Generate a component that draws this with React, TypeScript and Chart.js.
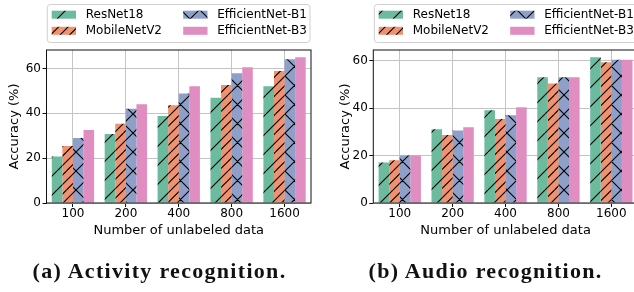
import React, { useEffect, useRef } from 'react';
import { Chart, registerables } from 'chart.js';
Chart.register(...registerables);

const categories = ['100', '200', '400', '800', '1600'];
const seriesNames = ['ResNet18', 'MobileNetV2', 'EfficientNet-B1', 'EfficientNet-B3'];

const activityResNet18 = [20.7, 30.8, 38.8, 47.0, 52.1];
const activityMobileNetV2 = [25.4, 35.3, 43.6, 52.6, 58.9];
const activityEffB1 = [29.0, 42.0, 48.9, 57.9, 64.1];
const activityEffB3 = [32.6, 44.1, 52.1, 60.6, 65.0];

const audioResNet18 = [17.1, 31.1, 39.1, 53.0, 61.4];
const audioMobileNetV2 = [18.0, 28.7, 35.4, 50.4, 59.3];
const audioEffB1 = [20.0, 30.6, 37.0, 53.0, 60.4];
const audioEffB3 = [20.0, 31.9, 40.3, 53.0, 60.4];

const yTicks = [0, 20, 40, 60];
const colors = ['#6dbb9f', '#f09170', '#8ea0c9', '#e08dc1'];
const hatches = ['/', '//', 'x', ''];

const xTitle = 'Number of unlabeled data';
const yTitle = 'Accuracy (%)';
const captionA = '(a) Activity recognition.';
const captionB = '(b) Audio recognition.';

const FONT = "'DejaVu Sans'";

function makeFill(color: string, hatch: string, s = 19): any {
  if (!hatch) return color;
  const c = document.createElement('canvas');
  c.width = s;
  c.height = s;
  const ctx = c.getContext('2d')!;
  ctx.fillStyle = color;
  ctx.fillRect(0, 0, s, s);
  ctx.strokeStyle = '#000';
  ctx.lineWidth = 1.1;
  ctx.beginPath();
  const n = hatch === '//' ? 2 : 1;
  for (let k = -2 * n; k <= 2 * n; k++) {
    const d = (k * s) / n;
    ctx.moveTo(d, s);
    ctx.lineTo(d + s, 0);
  }
  if (hatch === 'x') {
    for (let k = -2; k <= 2; k++) {
      const d = k * s;
      ctx.moveTo(d, 0);
      ctx.lineTo(d + s, s);
    }
  }
  ctx.stroke();
  return ctx.createPattern(c, 'repeat');
}

interface PanelProps {
  left: number;
  width: number;
  series: number[][];
  yMax: number;
  yAxisWidth: number;
  padRight: number;
  yTitlePad: number;
  legendX: number;
}

function Panel(props: PanelProps) {
  const ref = useRef<HTMLCanvasElement | null>(null);
  useEffect(() => {
    const canvas = ref.current!;
    const fills = colors.map((c, i) => makeFill(c, hatches[i]));
    const gridColor = '#c4c4c4';

    const framePlugin = {
      id: 'frame',
      afterDatasetsDraw(chart: any) {
        const { ctx, chartArea } = chart;
        ctx.save();
        ctx.strokeStyle = '#111';
        ctx.lineWidth = 1;
        ctx.strokeRect(chartArea.left, chartArea.top, chartArea.right - chartArea.left, chartArea.bottom - chartArea.top);
        ctx.restore();
      },
    };

    const legendPlugin = {
      id: 'customLegend',
      afterDraw(chart: any) {
        const ctx = chart.ctx;
        const bx = props.legendX;
        const by = 4.5;
        const bw = 262.7;
        const bh = 38;
        ctx.save();
        ctx.beginPath();
        const r = 3;
        ctx.moveTo(bx + r, by);
        ctx.lineTo(bx + bw - r, by);
        ctx.arcTo(bx + bw, by, bx + bw, by + r, r);
        ctx.lineTo(bx + bw, by + bh - r);
        ctx.arcTo(bx + bw, by + bh, bx + bw - r, by + bh, r);
        ctx.lineTo(bx + r, by + bh);
        ctx.arcTo(bx, by + bh, bx, by + bh - r, r);
        ctx.lineTo(bx, by + r);
        ctx.arcTo(bx, by, bx + r, by, r);
        ctx.closePath();
        ctx.fillStyle = 'rgba(255,255,255,0.8)';
        ctx.fill();
        ctx.strokeStyle = '#d0d0d0';
        ctx.lineWidth = 1;
        ctx.stroke();
        const order = [0, 1, 2, 3];
        order.forEach((idx, j) => {
          const col = Math.floor(j / 2);
          const row = j % 2;
          const sx = bx + 4.4 + col * 131.5;
          const cy = 14.7 + row * 16.1;
          ctx.fillStyle = fills[idx];
          ctx.fillRect(sx, cy - 4, 24.3, 8);
          ctx.fillStyle = '#000';
          ctx.font = `12px ${FONT}`;
          ctx.textBaseline = 'middle';
          ctx.textAlign = 'left';
          ctx.fillText(seriesNames[idx], sx + 34, cy + 0.5);
        });
        ctx.restore();
      },
    };

    const chart = new Chart(canvas, {
      type: 'bar',
      data: {
        labels: categories,
        datasets: props.series.map((vals, i) => ({
          label: seriesNames[i],
          data: vals,
          backgroundColor: fills[i],
          borderWidth: 0,
          categoryPercentage: 0.8,
          barPercentage: 1.0,
        })),
      },
      options: {
        animation: false,
        responsive: false,
        maintainAspectRatio: false,
        devicePixelRatio: 1,
        layout: { padding: { left: 0, top: 50, right: props.padRight, bottom: 54 } },
        plugins: { legend: { display: false }, tooltip: { enabled: false } },
        scales: {
          x: {
            grid: { offset: false, color: gridColor, lineWidth: 1, drawTicks: true, tickLength: 4, tickColor: '#111', tickWidth: 1 },
            border: { display: false },
            ticks: { color: '#000', font: { family: FONT, size: 12 }, padding: 0, maxRotation: 0 },
            title: { display: true, text: xTitle, color: '#000', font: { family: FONT, size: 13 }, padding: { top: 0, bottom: 0 } },
            afterFit: (s: any) => {
              s.height = 35;
            },
          },
          y: {
            min: 0,
            max: props.yMax,
            grid: { color: gridColor, lineWidth: 1, drawTicks: true, tickLength: 4, tickColor: '#111', tickWidth: 1 },
            border: { display: false },
            ticks: { color: '#000', font: { family: FONT, size: 12 }, padding: 1.5 },
            afterBuildTicks: (s: any) => {
              s.ticks = yTicks.map((v) => ({ value: v }));
            },
            title: { display: true, text: yTitle, color: '#000', font: { family: FONT, size: 13 }, padding: { top: props.yTitlePad, bottom: 0 } },
            afterFit: (s: any) => {
              s.width = props.yAxisWidth;
            },
          },
        },
      } as any,
      plugins: [framePlugin, legendPlugin],
    });
    return () => chart.destroy();
  }, []);
  return (
    <canvas
      ref={ref}
      width={props.width}
      height={292}
      style={{ position: 'absolute', left: props.left, top: 0, width: props.width, height: 292 }}
    />
  );
}

const captionStyle: React.CSSProperties = {
  position: 'absolute',
  width: 320,
  textAlign: 'center',
  fontFamily: "'Liberation Serif', serif",
  fontWeight: 'bold',
  fontSize: 22,
  letterSpacing: 1.3,
  lineHeight: '22px',
  top: 260,
  color: '#111',
  whiteSpace: 'nowrap',
};

export default function App() {
  const yMaxA = Math.max(...activityEffB3) * 1.05;
  const yMaxB = Math.max(...audioResNet18) * 1.05;
  return (
    <div style={{ position: 'absolute', left: 0, top: 0, width: 634, height: 292, overflow: 'hidden', background: '#fff' }}>
      <Panel
        left={0}
        width={317}
        series={[activityResNet18, activityMobileNetV2, activityEffB1, activityEffB3]}
        yMax={yMaxA}
        yAxisWidth={46.5}
        padRight={6}
        yTitlePad={7}
        legendX={47.3}
      />
      <Panel
        left={317}
        width={330}
        series={[audioResNet18, audioMobileNetV2, audioEffB1, audioEffB3]}
        yMax={yMaxB}
        yAxisWidth={56.3}
        padRight={9.2}
        yTitlePad={21}
        legendX={57.3}
      />
      <div style={{ ...captionStyle, left: 159.5 - 160 }}>{captionA}</div>
      <div style={{ ...captionStyle, left: 485.6 - 160 }}>{captionB}</div>
    </div>
  );
}
